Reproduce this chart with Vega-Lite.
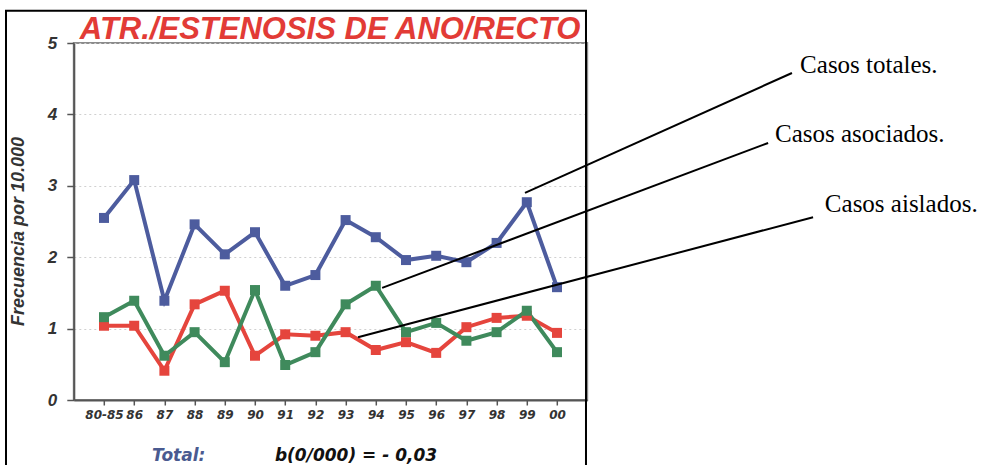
{
  "$schema": "https://vega.github.io/schema/vega-lite/v6.json",
  "width": 513.4,
  "height": 357,
  "autosize": "none",
  "padding": {"left": 73.8, "top": 43, "right": 402.8, "bottom": 65},
  "background": "white",
  "config": {
    "view": {"stroke": "#8c8c8c", "strokeWidth": 2},
    "font": "Liberation Sans"
  },
  "resolve": {"axis": {"x": "independent", "y": "independent"}},
  "datasets": {
    "series": [
      {"i": 0, "periodo": "80-85", "serie": "Casos totales", "v": 2.55},
      {"i": 1, "periodo": "86", "serie": "Casos totales", "v": 3.08},
      {"i": 2, "periodo": "87", "serie": "Casos totales", "v": 1.39},
      {"i": 3, "periodo": "88", "serie": "Casos totales", "v": 2.46},
      {"i": 4, "periodo": "89", "serie": "Casos totales", "v": 2.04},
      {"i": 5, "periodo": "90", "serie": "Casos totales", "v": 2.35},
      {"i": 6, "periodo": "91", "serie": "Casos totales", "v": 1.60},
      {"i": 7, "periodo": "92", "serie": "Casos totales", "v": 1.75},
      {"i": 8, "periodo": "93", "serie": "Casos totales", "v": 2.52},
      {"i": 9, "periodo": "94", "serie": "Casos totales", "v": 2.28},
      {"i": 10, "periodo": "95", "serie": "Casos totales", "v": 1.96},
      {"i": 11, "periodo": "96", "serie": "Casos totales", "v": 2.02},
      {"i": 12, "periodo": "97", "serie": "Casos totales", "v": 1.93},
      {"i": 13, "periodo": "98", "serie": "Casos totales", "v": 2.20},
      {"i": 14, "periodo": "99", "serie": "Casos totales", "v": 2.77},
      {"i": 15, "periodo": "00", "serie": "Casos totales", "v": 1.58},
      {"i": 0, "periodo": "80-85", "serie": "Casos aislados", "v": 1.04},
      {"i": 1, "periodo": "86", "serie": "Casos aislados", "v": 1.04},
      {"i": 2, "periodo": "87", "serie": "Casos aislados", "v": 0.41},
      {"i": 3, "periodo": "88", "serie": "Casos aislados", "v": 1.34},
      {"i": 4, "periodo": "89", "serie": "Casos aislados", "v": 1.53},
      {"i": 5, "periodo": "90", "serie": "Casos aislados", "v": 0.62},
      {"i": 6, "periodo": "91", "serie": "Casos aislados", "v": 0.92},
      {"i": 7, "periodo": "92", "serie": "Casos aislados", "v": 0.90},
      {"i": 8, "periodo": "93", "serie": "Casos aislados", "v": 0.95},
      {"i": 9, "periodo": "94", "serie": "Casos aislados", "v": 0.70},
      {"i": 10, "periodo": "95", "serie": "Casos aislados", "v": 0.81},
      {"i": 11, "periodo": "96", "serie": "Casos aislados", "v": 0.66},
      {"i": 12, "periodo": "97", "serie": "Casos aislados", "v": 1.02},
      {"i": 13, "periodo": "98", "serie": "Casos aislados", "v": 1.15},
      {"i": 14, "periodo": "99", "serie": "Casos aislados", "v": 1.18},
      {"i": 15, "periodo": "00", "serie": "Casos aislados", "v": 0.94},
      {"i": 0, "periodo": "80-85", "serie": "Casos asociados", "v": 1.16},
      {"i": 1, "periodo": "86", "serie": "Casos asociados", "v": 1.39},
      {"i": 2, "periodo": "87", "serie": "Casos asociados", "v": 0.62},
      {"i": 3, "periodo": "88", "serie": "Casos asociados", "v": 0.95},
      {"i": 4, "periodo": "89", "serie": "Casos asociados", "v": 0.53},
      {"i": 5, "periodo": "90", "serie": "Casos asociados", "v": 1.54},
      {"i": 6, "periodo": "91", "serie": "Casos asociados", "v": 0.49},
      {"i": 7, "periodo": "92", "serie": "Casos asociados", "v": 0.67},
      {"i": 8, "periodo": "93", "serie": "Casos asociados", "v": 1.34},
      {"i": 9, "periodo": "94", "serie": "Casos asociados", "v": 1.60},
      {"i": 10, "periodo": "95", "serie": "Casos asociados", "v": 0.95},
      {"i": 11, "periodo": "96", "serie": "Casos asociados", "v": 1.08},
      {"i": 12, "periodo": "97", "serie": "Casos asociados", "v": 0.83},
      {"i": 13, "periodo": "98", "serie": "Casos asociados", "v": 0.95},
      {"i": 14, "periodo": "99", "serie": "Casos asociados", "v": 1.25},
      {"i": 15, "periodo": "00", "serie": "Casos asociados", "v": 0.67}
    ],
    "notes": [
      {"label": "Casos totales.", "x1": 13.94, "y1": 2.90, "x2": 22.78, "y2": 4.58, "tx": 23.05, "ty": 4.58},
      {"label": "Casos asociados.", "x1": 9.21, "y1": 1.57, "x2": 21.99, "y2": 3.60, "tx": 22.22, "ty": 3.61},
      {"label": "Casos aislados.", "x1": 8.41, "y1": 0.88, "x2": 23.48, "y2": 2.56, "tx": 23.87, "ty": 2.63}
    ],
    "titulo": [
      {"texto": "ATR./ESTENOSIS DE ANO/RECTO", "tx": -0.8, "ty": 5.05}
    ],
    "total": [
      {"texto": "Total:", "tx": 1.59, "ty": -0.86}
    ],
    "pendiente": [
      {"texto": "b(0/000) = - 0,03", "tx": 5.66, "ty": -0.86}
    ],
    "frame": [
      {"x1": -3.245, "x2": 15.96, "y1": 5.45, "y2": -1.0}
    ]
  },
  "layer": [
    {
      "data": {"name": "series"},
      "mark": {"type": "line", "strokeWidth": 4},
      "encoding": {
        "x": {
          "field": "i",
          "type": "quantitative",
          "scale": {"domain": [-1, 16], "nice": false, "zero": false},
          "axis": {
            "orient": "bottom",
            "values": [0, 1, 2, 3, 4, 5, 6, 7, 8, 9, 10, 11, 12, 13, 14, 15],
            "labelExpr": "['80-85','86','87','88','89','90','91','92','93','94','95','96','97','98','99','00'][datum.value]",
            "labelOverlap": false,
            "title": null,
            "grid": false,
            "domainColor": "#555555",
            "domainWidth": 2,
            "tickColor": "#555555",
            "tickWidth": 1.5,
            "tickSize": 5,
            "labelFont": "DejaVu Sans",
            "labelFontSize": 12,
            "labelFontWeight": "bold",
            "labelFontStyle": "italic",
            "labelColor": "#333333",
            "labelPadding": 4
          }
        },
        "y": {
          "field": "v",
          "type": "quantitative",
          "scale": {"domain": [0, 5], "nice": false},
          "axis": {
            "orient": "left",
            "values": [0, 1, 2, 3, 4, 5],
            "format": "d",
            "labelOverlap": false,
            "title": "Frecuencia por 10.000",
            "titleFont": "Liberation Sans",
            "titleFontSize": 18,
            "titleFontWeight": "bold",
            "titleFontStyle": "italic",
            "titleColor": "#333333",
            "titleAngle": -90,
            "titleX": -55,
            "titleY": 188,
            "titleAlign": "center",
            "titleBaseline": "middle",
            "grid": true,
            "gridDash": [2, 3],
            "gridColor": "#d0d0d0",
            "gridWidth": 1,
            "domainColor": "#555555",
            "domainWidth": 2,
            "tickColor": "#555555",
            "tickWidth": 1.5,
            "tickSize": 7,
            "labelFont": "Liberation Sans",
            "labelFontSize": 17,
            "labelFontWeight": "bold",
            "labelFontStyle": "italic",
            "labelColor": "#333333",
            "labelPadding": 10
          }
        },
        "color": {
          "field": "serie",
          "type": "nominal",
          "scale": {"domain": ["Casos totales", "Casos aislados", "Casos asociados"], "range": ["#4d5c9e", "#e5453d", "#3f8a5c"]},
          "legend": null
        }
      }
    },
    {
      "data": {"name": "series"},
      "mark": {"type": "point", "shape": "square", "filled": true, "size": 100, "opacity": 1},
      "encoding": {
        "x": {"field": "i", "type": "quantitative", "axis": null},
        "y": {"field": "v", "type": "quantitative", "axis": null},
        "color": {"field": "serie", "type": "nominal", "legend": null}
      }
    },
    {
      "data": {"name": "notes"},
      "mark": {"type": "rule", "color": "black", "strokeWidth": 2},
      "encoding": {
        "x": {"field": "x1", "type": "quantitative", "axis": null},
        "x2": {"field": "x2"},
        "y": {"field": "y1", "type": "quantitative", "axis": null},
        "y2": {"field": "y2"}
      }
    },
    {
      "data": {"name": "notes"},
      "mark": {"type": "text", "align": "left", "baseline": "alphabetic", "font": "Liberation Serif", "fontSize": 25, "color": "black"},
      "encoding": {
        "x": {"field": "tx", "type": "quantitative", "axis": null},
        "y": {"field": "ty", "type": "quantitative", "axis": null},
        "text": {"field": "label"}
      }
    },
    {
      "data": {"name": "titulo"},
      "mark": {"type": "text", "align": "left", "baseline": "alphabetic", "font": "Liberation Sans", "fontSize": 31, "fontWeight": "bold", "fontStyle": "italic", "color": "#e23b36"},
      "encoding": {
        "x": {"field": "tx", "type": "quantitative", "axis": null},
        "y": {"field": "ty", "type": "quantitative", "axis": null},
        "text": {"field": "texto"}
      }
    },
    {
      "data": {"name": "total"},
      "mark": {"type": "text", "align": "left", "baseline": "alphabetic", "font": "DejaVu Sans", "fontSize": 17, "fontWeight": "bold", "fontStyle": "italic", "color": "#4a5a90"},
      "encoding": {
        "x": {"field": "tx", "type": "quantitative", "axis": null},
        "y": {"field": "ty", "type": "quantitative", "axis": null},
        "text": {"field": "texto"}
      }
    },
    {
      "data": {"name": "pendiente"},
      "mark": {"type": "text", "align": "left", "baseline": "alphabetic", "font": "DejaVu Sans", "fontSize": 17, "fontWeight": "bold", "fontStyle": "italic", "color": "#111111"},
      "encoding": {
        "x": {"field": "tx", "type": "quantitative", "axis": null},
        "y": {"field": "ty", "type": "quantitative", "axis": null},
        "text": {"field": "texto"}
      }
    },
    {
      "data": {"name": "frame"},
      "mark": {"type": "rect", "fillOpacity": 0, "stroke": "black", "strokeWidth": 2},
      "encoding": {
        "x": {"field": "x1", "type": "quantitative", "axis": null},
        "x2": {"field": "x2"},
        "y": {"field": "y1", "type": "quantitative", "axis": null},
        "y2": {"field": "y2"}
      }
    }
  ]
}
